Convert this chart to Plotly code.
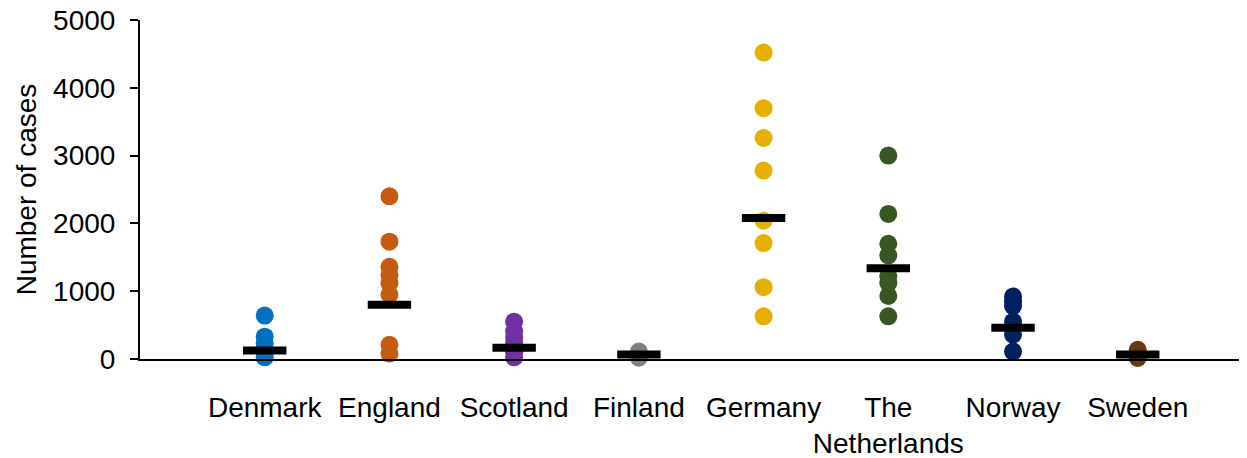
import plotly.graph_objects as go

countries = ["Denmark", "England", "Scotland", "Finland", "Germany", "The<br>Netherlands", "Norway", "Sweden"]
colors = ["#0070C0", "#C55A11", "#7030A0", "#808080", "#E6B000", "#385723", "#002060", "#6B3A0A"]
y_ticks = [0, 1000, 2000, 3000, 4000, 5000]

denmark = [640, 330, 230, 150, 90, 25]
england = [2400, 1730, 1360, 1240, 1120, 950, 210, 80]
scotland = [550, 410, 320, 240, 170, 100, 25]
finland = [110, 20]
germany = [4520, 3700, 3260, 2780, 2040, 1710, 1060, 630]
netherlands = [3000, 2140, 1700, 1530, 1220, 1120, 930, 630]
norway = [920, 850, 780, 550, 470, 360, 110]
sweden = [135, 15]
medians = [125, 800, 165, 65, 2080, 1340, 460, 65]

series = [denmark, england, scotland, finland, germany, netherlands, norway, sweden]
positions = list(range(1, len(countries) + 1))

fig = go.Figure()
for pos, vals, col in zip(positions, series, colors):
    fig.add_trace(go.Scatter(
        x=[pos] * len(vals), y=vals, mode="markers",
        marker=dict(size=18, color=col, line=dict(width=0)),
        cliponaxis=False, hoverinfo="y"))

fig.add_trace(go.Scatter(
    x=positions, y=medians, mode="markers",
    marker=dict(symbol="line-ew", size=31, color="black",
                line=dict(width=8, color="black")),
    cliponaxis=False, hoverinfo="y"))

font = dict(family="Liberation Sans, Arial, sans-serif", size=28, color="black")
fig.update_layout(
    width=1239, height=450,
    margin=dict(l=132, r=2, t=12, b=99, autoexpand=False),
    plot_bgcolor="white", paper_bgcolor="white",
    showlegend=False, font=font,
    xaxis=dict(range=[0, 8.86], showline=True, linewidth=2, linecolor="black",
               showgrid=False, zeroline=False, tickvals=positions, ticktext=countries,
               ticks="", tickangle=0, ticklabelstandoff=22, tickfont=font,
               ticklabeloverflow="allow", automargin=False),
    yaxis=dict(range=[0, 5000], tickvals=y_ticks, showline=True, linewidth=2, linecolor="black",
               showgrid=False, zeroline=False, ticks="outside", ticklen=8, tickwidth=2,
               tickcolor="black", ticklabelstandoff=9, tickfont=font,
               ticklabeloverflow="allow", automargin=False,
               title=dict(text="Number of cases", font=font, standoff=8)),
)
fig.write_html("out.html")
